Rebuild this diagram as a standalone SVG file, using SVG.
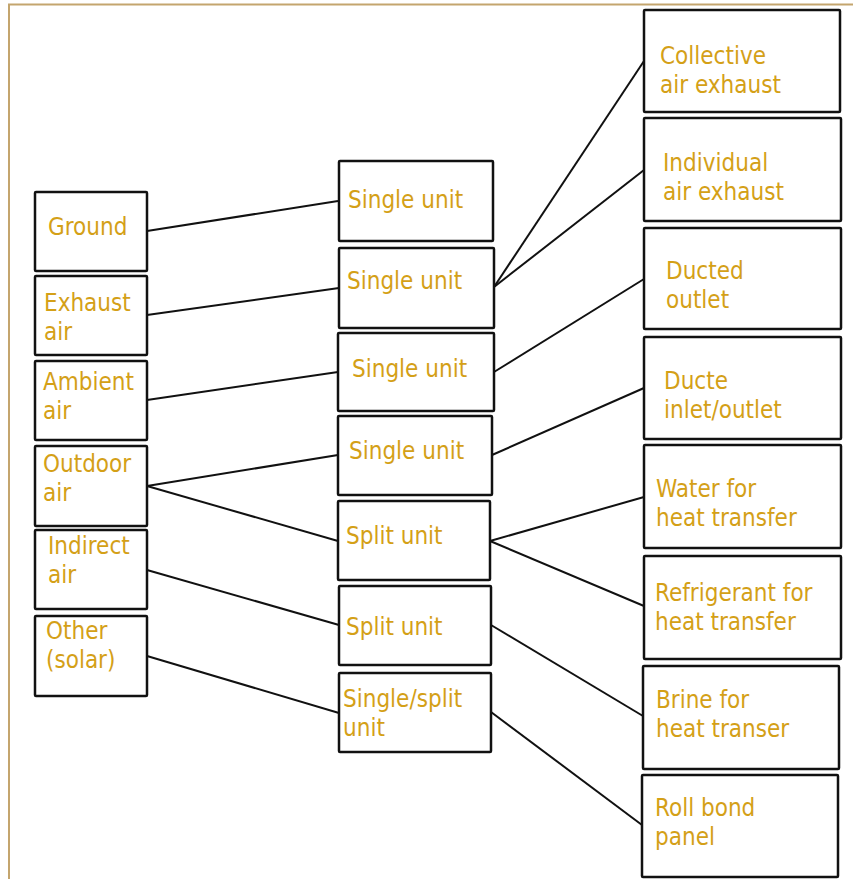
<svg xmlns="http://www.w3.org/2000/svg" width="853" height="879" viewBox="0 0 853 879">
<style>
.b{fill:#fff;stroke:#111;stroke-width:2.5;}
.t{font-family:"DejaVu Sans Condensed","DejaVu Sans",sans-serif;font-stretch:condensed;font-size:24px;fill:#d4a017;}
.c{stroke:#111;stroke-width:2;fill:none;}
</style>
<rect x="0" y="0" width="853" height="879" fill="#fff"/>
<path d="M9,880 V4.5 H853" fill="none" stroke="#c4a56e" stroke-width="2"/>
<g id="connectors">
<line class="c" x1="147" y1="231" x2="338" y2="201"/>
<line class="c" x1="147" y1="315" x2="339" y2="288"/>
<line class="c" x1="147" y1="400" x2="338" y2="372"/>
<line class="c" x1="147" y1="486" x2="338" y2="455"/>
<line class="c" x1="147" y1="486" x2="338" y2="541"/>
<line class="c" x1="147" y1="570" x2="339" y2="625"/>
<line class="c" x1="147" y1="656" x2="339" y2="713"/>
<line class="c" x1="494" y1="287" x2="644" y2="61"/>
<line class="c" x1="494" y1="287" x2="644" y2="170"/>
<line class="c" x1="494" y1="372" x2="644" y2="279"/>
<line class="c" x1="492" y1="455" x2="644" y2="388"/>
<line class="c" x1="490" y1="541" x2="644" y2="497"/>
<line class="c" x1="490" y1="541" x2="644" y2="606"/>
<line class="c" x1="491" y1="625" x2="643" y2="716"/>
<line class="c" x1="491" y1="712" x2="642" y2="825"/>
</g>
<g id="ground"><rect class="b" x="35" y="192" width="112" height="79" rx="1"/><text class="t" x="48" y="235">Ground</text></g>
<g id="exhaust-air"><rect class="b" x="35" y="276" width="112" height="79" rx="1"/><text class="t" x="44" y="311">Exhaust</text><text class="t" x="44" y="340">air</text></g>
<g id="ambient-air"><rect class="b" x="35" y="361" width="112" height="79" rx="1"/><text class="t" x="43" y="390">Ambient</text><text class="t" x="43" y="419">air</text></g>
<g id="outdoor-air"><rect class="b" x="35" y="446" width="112" height="80" rx="1"/><text class="t" x="43" y="472">Outdoor</text><text class="t" x="43" y="501">air</text></g>
<g id="indirect-air"><rect class="b" x="35" y="530" width="112" height="79" rx="1"/><text class="t" x="48" y="554">Indirect</text><text class="t" x="48" y="583">air</text></g>
<g id="other-solar"><rect class="b" x="35" y="616" width="112" height="80" rx="1"/><text class="t" x="46" y="639">Other</text><text class="t" x="46" y="668">(solar)</text></g>
<g id="single-unit-1"><rect class="b" x="339" y="161" width="154" height="80" rx="1"/><text class="t" x="348" y="208">Single unit</text></g>
<g id="single-unit-2"><rect class="b" x="339" y="248" width="155" height="80" rx="1"/><text class="t" x="347" y="289">Single unit</text></g>
<g id="single-unit-3"><rect class="b" x="338" y="333" width="156" height="78" rx="1"/><text class="t" x="352" y="377">Single unit</text></g>
<g id="single-unit-4"><rect class="b" x="338" y="416" width="154" height="79" rx="1"/><text class="t" x="349" y="459">Single unit</text></g>
<g id="split-unit-1"><rect class="b" x="338" y="501" width="152" height="79" rx="1"/><text class="t" x="346" y="544">Split unit</text></g>
<g id="split-unit-2"><rect class="b" x="339" y="586" width="152" height="79" rx="1"/><text class="t" x="346" y="635">Split unit</text></g>
<g id="single-split-unit"><rect class="b" x="339" y="673" width="152" height="79" rx="1"/><text class="t" x="343" y="707">Single/split</text><text class="t" x="343" y="736">unit</text></g>
<g id="collective-air-exhaust"><rect class="b" x="644" y="10" width="196" height="102" rx="1"/><text class="t" x="660" y="64">Collective</text><text class="t" x="660" y="93">air exhaust</text></g>
<g id="individual-air-exhaust"><rect class="b" x="644" y="118" width="197" height="103" rx="1"/><text class="t" x="663" y="171">Individual</text><text class="t" x="663" y="200">air exhaust</text></g>
<g id="ducted-outlet"><rect class="b" x="644" y="228" width="197" height="101" rx="1"/><text class="t" x="666" y="279">Ducted</text><text class="t" x="666" y="308">outlet</text></g>
<g id="ducte-inlet-outlet"><rect class="b" x="644" y="337" width="197" height="102" rx="1"/><text class="t" x="664" y="389">Ducte</text><text class="t" x="664" y="418">inlet/outlet</text></g>
<g id="water"><rect class="b" x="644" y="445" width="197" height="103" rx="1"/><text class="t" x="656" y="497">Water for</text><text class="t" x="656" y="526">heat transfer</text></g>
<g id="refrigerant"><rect class="b" x="644" y="556" width="197" height="103" rx="1"/><text class="t" x="655" y="601">Refrigerant for</text><text class="t" x="655" y="630">heat transfer</text></g>
<g id="brine"><rect class="b" x="643" y="666" width="196" height="103" rx="1"/><text class="t" x="656" y="708">Brine for</text><text class="t" x="656" y="737">heat transer</text></g>
<g id="roll-bond-panel"><rect class="b" x="642" y="775" width="196" height="102" rx="1"/><text class="t" x="655" y="816">Roll bond</text><text class="t" x="655" y="845">panel</text></g>
</svg>
